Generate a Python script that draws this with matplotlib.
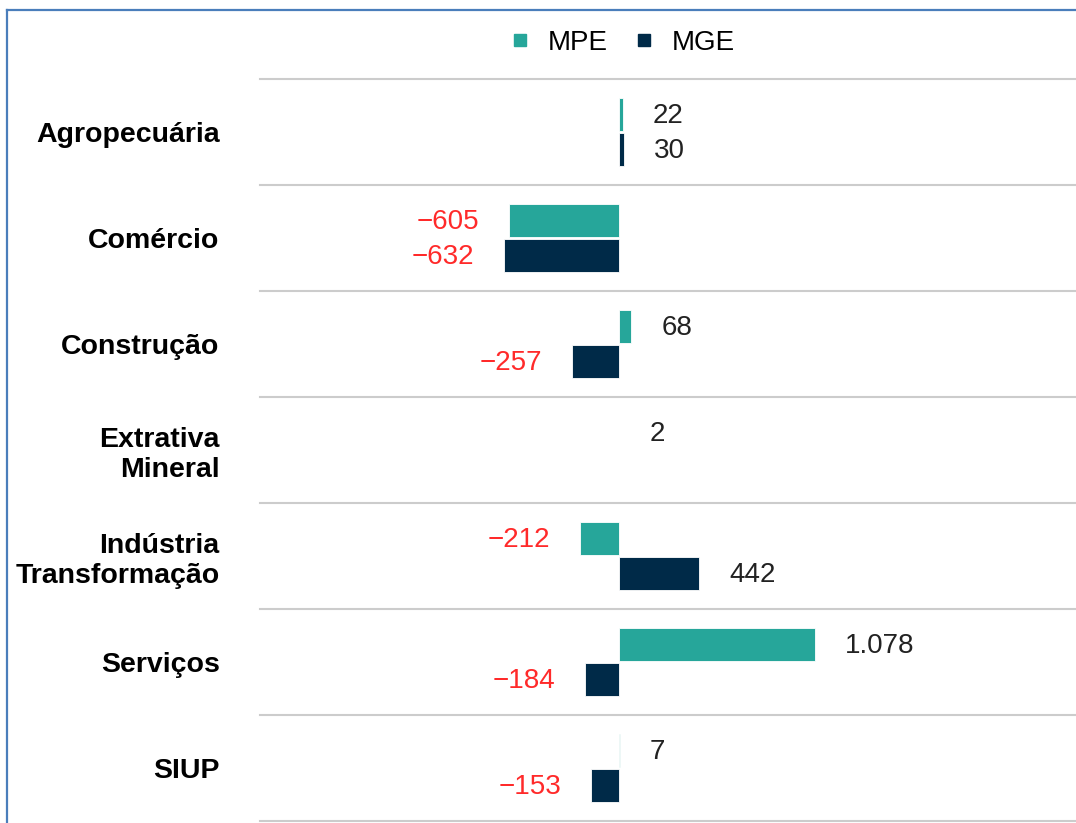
import numpy as np
import matplotlib.pyplot as plt
from matplotlib.lines import Line2D

plt.rcParams['font.family'] = ['Liberation Sans', 'DejaVu Sans']

categories = ["Agropecuária", "Comércio", "Construção", "Extrativa\nMineral",
              "Indústria\nTransformação", "Serviços", "SIUP"]
mpe = [22, -605, 68, 2, -212, 1078, 7]
mge = [30, -632, -257, np.nan, 442, -184, -153]
series = ["MPE", "MGE"]
colors = ["#26a69a", "#002a48"]
neg_color = "#ff2a2a"

W, H = 1076, 823
fig = plt.figure(figsize=(W / 100, H / 100), dpi=100)
ax = fig.add_axes([260 / W, 1 - 821 / H, 1 - 260 / W, (821 - 79) / H])

y = np.arange(len(categories))
h = 0.31
off = 0.167


def fmt(v):
    s = f"{abs(int(v)):,}".replace(",", ".")
    return ("\u2212" + s) if v < 0 else s


for vals, col, d in [(mpe, colors[0], -off), (mge, colors[1], off)]:
    vals = np.array(vals, dtype=float)
    ax.barh(y + d, np.nan_to_num(vals), height=h, color=col, edgecolor='white',
            linewidth=0.6)
    for yi, v in zip(y + d, vals):
        if np.isnan(v):
            continue
        if v < 0:
            ax.annotate(fmt(v), (v, yi), xytext=(-21.5, -1.2), textcoords='offset points',
                        ha='right', va='center', fontsize=20, color=neg_color)
        else:
            ax.annotate(fmt(v), (v, yi), xytext=(21.5, -1.2), textcoords='offset points',
                        ha='left', va='center', fontsize=20, color='#222222')

ax.set_xlim(-1972, 2511)
ax.set_ylim(len(categories) - 0.5, -0.5)
for b in np.arange(-0.5, len(categories), 1):
    ax.axhline(b, color='#cccccc', linewidth=1.5, clip_on=False)

ax.set_yticks(y)
ax.set_yticklabels(categories, fontsize=20.5, fontweight='bold', ha='right')
ax.tick_params(axis='y', length=0, pad=29)
ax.set_xticks([])
for s in ax.spines.values():
    s.set_visible(False)

handles = [Line2D([], [], marker='s', linestyle='none', markersize=8,
                  color=c) for c in colors]
fig.legend(handles, series, loc='center', bbox_to_anchor=(622 / W, 1 - 43 / H),
           ncol=2, frameon=False, fontsize=20, handlelength=0.8,
           handletextpad=0.6, columnspacing=0.9)

# blue frame at left/top
fig.add_artist(Line2D([7 / W, 7 / W], [0, 1 - 10 / H], color='#4a7ebb', linewidth=1.6))
fig.add_artist(Line2D([7 / W, 1], [1 - 10 / H, 1 - 10 / H], color='#4a7ebb', linewidth=1.6))

fig.savefig("out.png", dpi=100)
